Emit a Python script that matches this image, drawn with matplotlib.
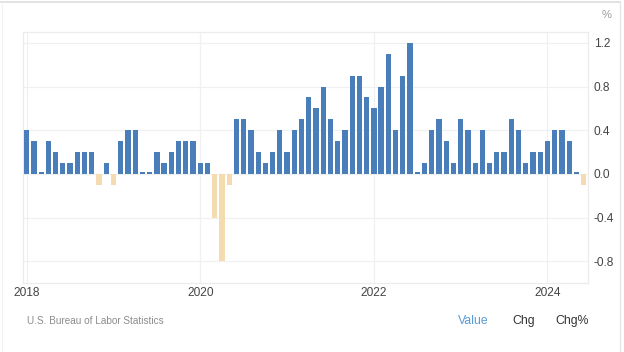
import numpy as np
import matplotlib
matplotlib.use("Agg")
import matplotlib.pyplot as plt
from matplotlib.lines import Line2D

plt.rcParams['font.family'] = ['Liberation Sans', 'DejaVu Sans']

# Monthly US CPI change (%), Jan 2018 .. Jun 2024
values = [
    0.4, 0.3, 0.0, 0.3, 0.2, 0.1, 0.1, 0.2, 0.2, 0.2, -0.1, 0.1,   # 2018
    -0.1, 0.3, 0.4, 0.4, 0.0, 0.0, 0.2, 0.1, 0.2, 0.3, 0.3, 0.3,   # 2019
    0.1, 0.1, -0.4, -0.8, -0.1, 0.5, 0.5, 0.4, 0.2, 0.1, 0.2, 0.4, # 2020
    0.2, 0.4, 0.5, 0.7, 0.6, 0.8, 0.5, 0.3, 0.4, 0.9, 0.9, 0.7,    # 2021
    0.6, 0.8, 1.1, 0.4, 0.9, 1.2, 0.0, 0.1, 0.4, 0.5, 0.3, 0.1,    # 2022
    0.5, 0.4, 0.1, 0.4, 0.1, 0.2, 0.2, 0.5, 0.4, 0.1, 0.2, 0.2,    # 2023
    0.3, 0.4, 0.4, 0.3, 0.0, -0.1,                                  # 2024
]
start_year = 2018
year_labels = ["2018", "2020", "2022", "2024"]
y_ticks = [-0.8, -0.4, 0.0, 0.4, 0.8, 1.2]
source = "U.S. Bureau of Labor Statistics"
buttons = ["Value", "Chg", "Chg%"]

W, H = 624, 352
fig = plt.figure(figsize=(W / 100, H / 100), dpi=100)
fig.patch.set_facecolor('white')

L, R, T, B = 23, 588, 32, 283
ax = fig.add_axes([L / W, 1 - B / H, (R - L) / W, (B - T) / H])

vals = np.array(values)
x = np.arange(len(vals))
disp = np.where(vals == 0, 0.02, vals)
colors = np.where(vals < 0, '#f5dcb0', '#4a7ebb')
ax.bar(x, disp, width=0.73, color=colors, linewidth=0, zorder=3)

ax.set_xlim(-0.51, 77.6)
ax.set_ylim(-1.0, 1.3)

tick_pos = [(int(y) - start_year) * 12 for y in year_labels]
ax.set_xticks(tick_pos)
ax.set_xticklabels(year_labels)
ax.set_yticks(y_ticks)
ax.set_yticklabels([f"{v:.1f}" for v in y_ticks])
ax.yaxis.tick_right()
ax.tick_params(axis='both', length=0, labelsize=8.6, labelcolor='#444444')
ax.tick_params(axis='y', pad=4)
ax.tick_params(axis='x', pad=3)

ax.grid(True, color='#f0f0f0', linewidth=0.9, zorder=0)
for s in ax.spines.values():
    s.set_color('#ececec')
    s.set_linewidth(0.9)

fig.text(607 / W, 1 - 15 / H, "%", ha='center', va='center', fontsize=8, color='#999999')
fig.text(27 / W, 1 - 321 / H, source, ha='left', va='center', fontsize=7.2, color='#8c8c8c')
btn_x = [458, 512, 555]
btn_c = ['#5b9bd5', '#333333', '#333333']
for lbl, bx, bc in zip(buttons, btn_x, btn_c):
    fig.text(bx / W, 1 - 321 / H, lbl, ha='left', va='center', fontsize=8.8, color=bc)

# outer widget border
fig.add_artist(Line2D([0, 620 / W], [1 - 1.5 / H, 1 - 1.5 / H], color='#dddddd', linewidth=1.2))
fig.add_artist(Line2D([620 / W, 620 / W], [0, 1 - 1.5 / H], color='#e6e6e6', linewidth=1.0))
fig.add_artist(Line2D([2 / W, 2 / W], [0, 1 - 1.5 / H], color='#f2f2f2', linewidth=0.8))

fig.savefig("out.png", dpi=100)
